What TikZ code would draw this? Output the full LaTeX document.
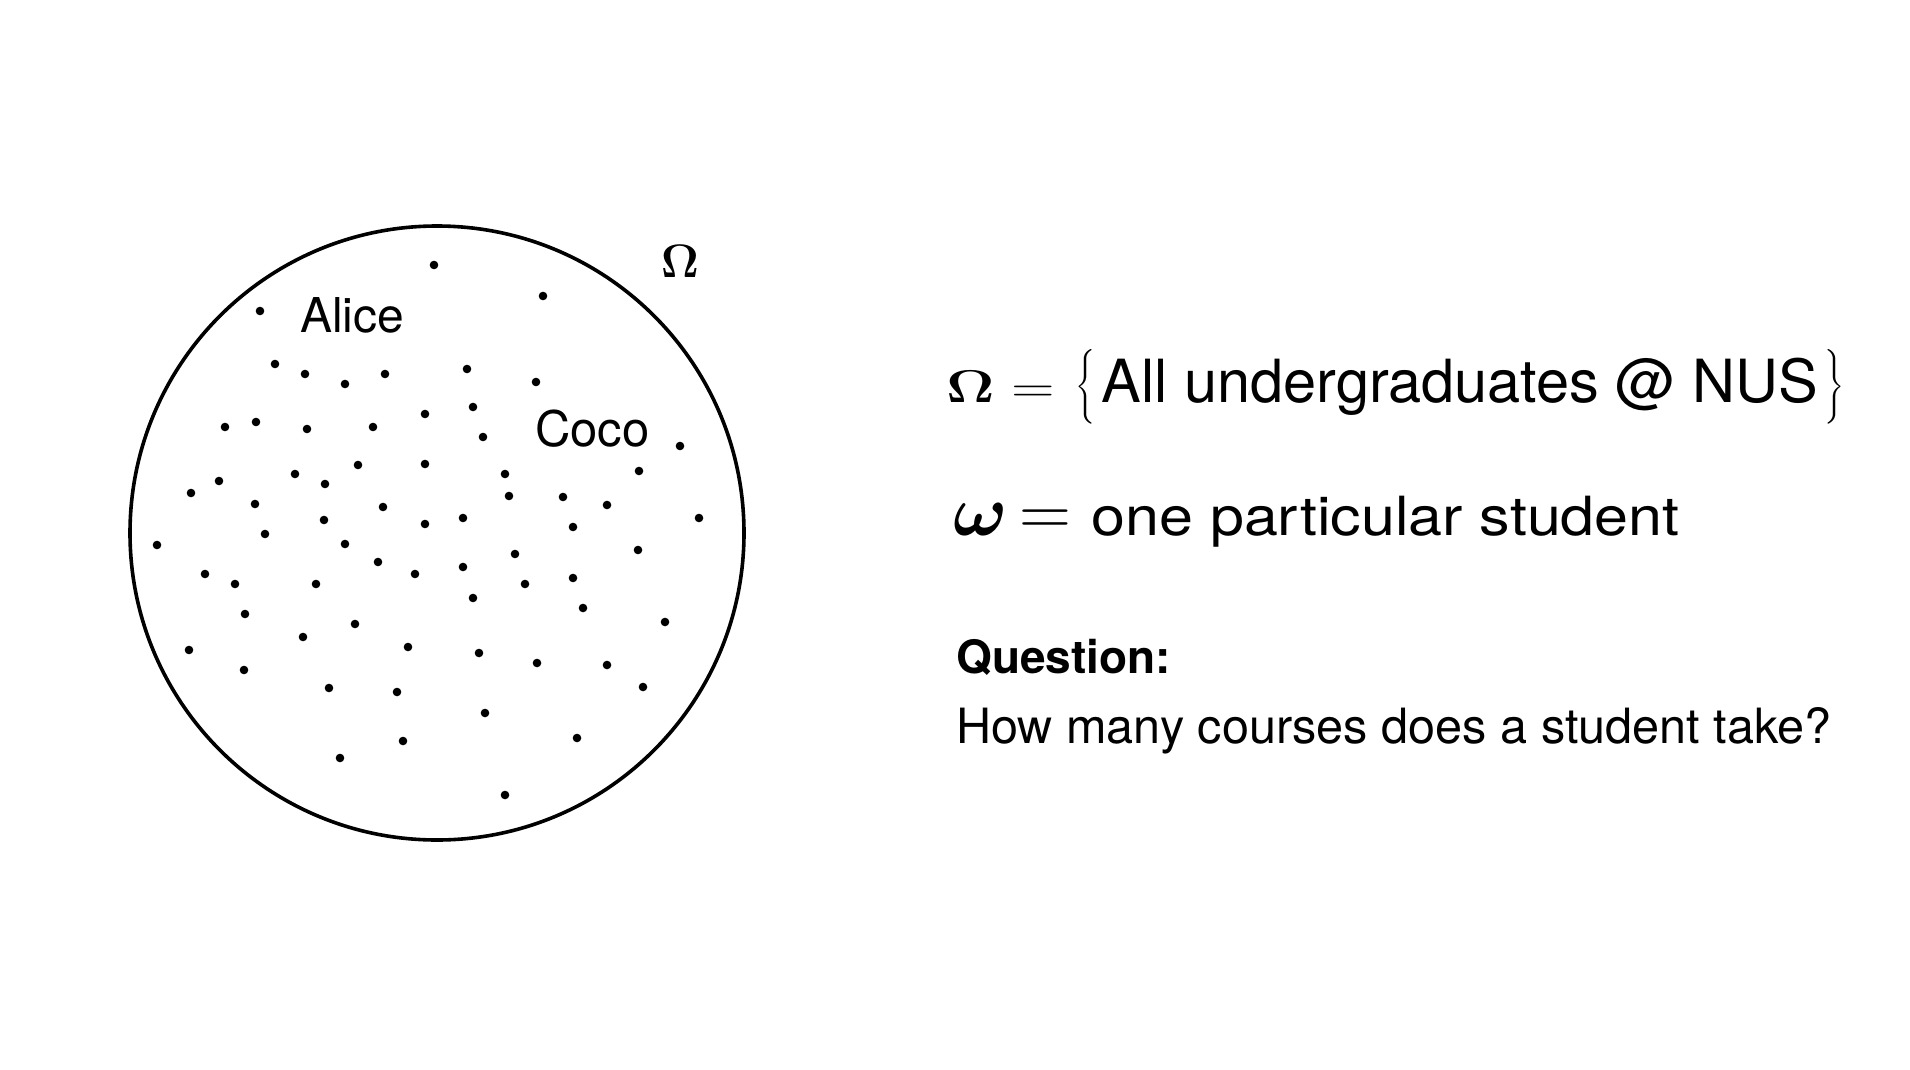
\RequirePackage{fix-cm}
\documentclass[tikz,border=0pt]{standalone}
\usepackage{amsmath}
\usepackage[no-math]{fontspec}
\setmainfont{TeX Gyre Heros}
\usetikzlibrary{positioning}

\begin{document}
\begin{tikzpicture}[x=1pt, y=-1pt,
  txt/.style={inner sep=0pt, anchor=base west},
  student/.style={fill=black}]
  \fill[white] (0,0) rectangle (1910,1070);
  \useasboundingbox (0,0) rectangle (1910,1070);

  \node[draw, circle, line width=3.6pt, minimum size=614pt, inner sep=0pt]
    (population) at (437,533) {};
  \foreach \px/\py in {434/265, 543/296, 260/311, 275/364, 305/374, 345/384,
      385/374, 467/369, 536/382, 473/407, 483/437, 425/414, 225/427, 256/422,
      307/429, 373/427, 680/446, 191/493, 219/481, 295/474, 325/484, 358/465,
      425/464, 505/474, 509/496, 563/497, 607/505, 639/471, 699/518, 157/545,
      255/504, 265/534, 324/520, 383/507, 425/524, 463/518, 573/527, 345/544,
      378/562, 205/574, 235/584, 316/584, 415/574, 463/567, 515/554, 525/584,
      573/578, 473/598, 583/608, 638/550, 245/614, 355/624, 303/637, 665/622,
      189/650, 244/670, 408/647, 479/653, 537/663, 607/665, 329/688, 397/692,
      643/687, 485/713, 403/741, 577/738, 340/758, 505/795}
    \fill[student] (\px,\py) circle (4.3pt);

  \node[txt, font=\fontsize{48}{58}\selectfont] (alice) at (300,332) {Alice};
  \node[txt, font=\fontsize{49}{59}\selectfont] (coco) at (535,446) {Coco};
  \node[inner sep=0pt, font=\fontsize{47}{56}\selectfont] (omegaLabel)
    at (680,261) {$\mathbf{\Omega}$};

  \node[txt] (sampleSpace) at (946,402)
    {{\fontsize{46}{56}\selectfont\scalebox{1.3}[1]{$\mathbf{\Omega}=$}}\hspace{21pt}%
     {\fontsize{59.5}{70}\selectfont$\bigl\{$\hspace{6pt}All undergraduates @ NUS\hspace{6pt}$\bigr\}$}};
  \node[txt] (outcome) at (953,535)
    {{\fontsize{72}{86}\selectfont$\boldsymbol{\omega}\mskip3mu{=}\mskip5mu$}%
     {\fontsize{54}{64}\selectfont\scalebox{1.13}[1]{one particular student}}};
  \node[txt, font=\fontsize{46}{56}\selectfont\bfseries] (questionHead)
    at (956,673) {Question:};
  \node[txt, font=\fontsize{48.6}{58}\selectfont, below=70pt of questionHead.base west,
    anchor=base west] (questionText) {How many courses does a student take?};
\end{tikzpicture}
\end{document}
